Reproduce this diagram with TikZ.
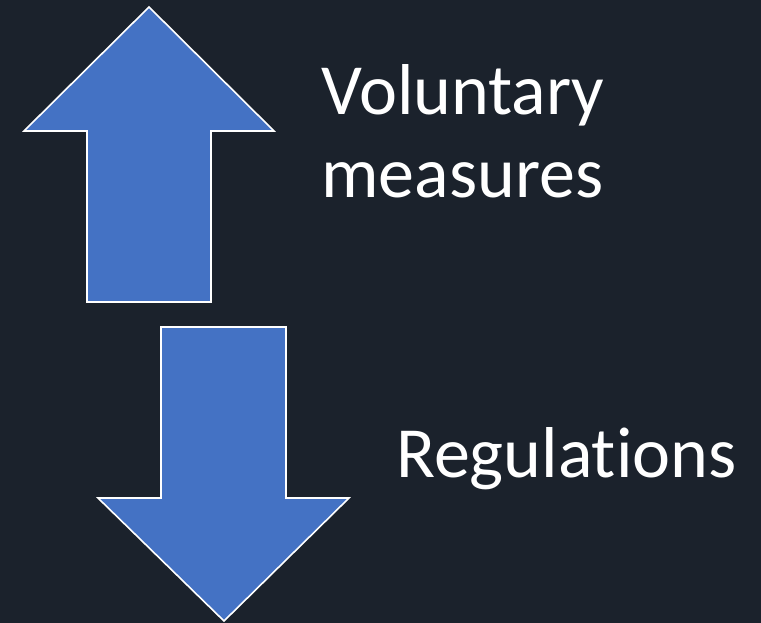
\documentclass[tikz,border=0pt]{standalone}
\usepackage{fontspec}
\setmainfont{Carlito}[Ligatures={NoCommon}]
\definecolor{slidebg}{HTML}{1B222C}
\definecolor{arrowblue}{HTML}{4472C4}
\tikzset{
  blockarrow/.style={draw=white, line width=1.6pt, fill=arrowblue, line join=miter},
  caption/.style={text=white, font=\fontsize{72}{86}\selectfont, inner sep=0pt, anchor=base west}
}
\begin{document}
\begin{tikzpicture}[x=1pt,y=-1pt]
  \fill [slidebg] (0,0) rectangle (761,623);
  % up arrow
  \draw [blockarrow] (149,7) -- (274,131) -- (211,131) -- (211,302)
        -- (87,302) -- (87,131) -- (24,131) -- cycle;
  % down arrow
  \draw [blockarrow] (161,327) -- (286,327) -- (286,498) -- (349,498)
        -- (224,621) -- (98,498) -- (161,498) -- cycle;
  \node [caption] (vol) at (321,115) {Voluntary};
  \node [caption] (meas) at (321,198) {measures};
  \node [caption] (reg) at (396,477) {Regulations};
\end{tikzpicture}
\end{document}
